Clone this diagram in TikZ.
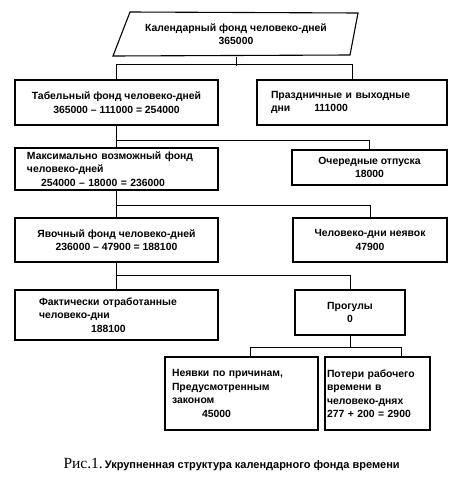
\documentclass[tikz,border=0pt]{standalone}
\usepackage{fontspec}
\setmainfont{Liberation Sans}
\newfontfamily\capserif{Liberation Serif}
\usetikzlibrary{positioning,calc}

\begin{document}
\begin{tikzpicture}[
                x=1pt,y=-1pt,
                box/.style={draw,line width=1.1pt,align=center,font=\fontsize{10.4}{13.5}\selectfont\bfseries,inner sep=2pt},
                lbox/.style={box,align=left,inner ysep=2pt},
                line/.style={line width=0.9pt},
            ]
                \useasboundingbox (0,0) rectangle (458,490);
                % top
                \node[box,draw=none,minimum height=44pt] (cal) at (236,34) {Календарный фонд человеко-дней\\365000};
                \draw[line width=1.1pt] (113,56) -- (130,12) -- (358,13) -- (350,55) -- cycle;
                % left column
                \node[box,minimum width=203pt,minimum height=45pt] (tab) at (116.5,102.5) {Табельный фонд человеко-дней\\365000 -- 111000 = 254000};
                \node[lbox,text width=179pt,inner xsep=12pt,minimum height=42pt] (max) at (116.5,169) {Максимально возможный фонд\\человеко-дней\\\hspace{14pt}254000 -- 18000 = 236000};
                \node[box,minimum width=203pt,minimum height=44pt] (yav) at (116.5,240) {Явочный фонд человеко-дней\\236000 -- 47900 = 188100};
                \node[lbox,text width=155pt,inner xsep=24pt,minimum height=50pt] (fact) at (116.5,315) {Фактически отработанные\\человеко-дни\\\hspace{52pt}188100};
                % right column
                \node[lbox,text width=162pt,inner xsep=14pt,minimum height=45pt] (hol) at (352,102.5) {Праздничные и выходные\\дни\hspace{24pt}111000};
                \node[box,minimum width=155pt,minimum height=35pt] (vac) at (369.5,167.5) {Очередные отпуска\\18000};
                \node[box,minimum width=154pt,minimum height=44pt] (abs) at (370,240) {Человеко-дни неявок\\47900};
                \node[box,minimum width=110pt,minimum height=45pt] (prog) at (350,312.5) {Прогулы\\0};
                % bottom
                \node[lbox,text width=139pt,inner xsep=7pt,minimum height=73pt] (nev) at (241.5,393.5) {Неявки по причинам,\\Предусмотренным\\законом\\\hspace{30pt}45000};
                \node[lbox,text width=101pt,inner xsep=2pt,minimum height=73pt] (loss) at (377.5,393.5) {Потери рабочего\\времени в\\человеко-днях\\277 + 200 = 2900};
                % connectors
                \draw[line] (cal.south) -- ++(0,9);
                \draw[line] (tab.north) -- ++(0,-15) -| (hol.north);
                \draw[line] (tab.south) -- (max.north);
                \draw[line] (tab.south) ++(0,15) -| (vac.north);
                \draw[line] (max.south) -- (yav.north);
                \draw[line] (max.south) ++(0,15) -| (abs.north);
                \draw[line] (yav.south) -- (fact.north);
                \draw[line] (yav.south) ++(0,13) -| (prog.north);
                \draw[line] (prog.south) -- ++(0,12) coordinate (split);
                \draw[line] ($(nev.north)+(9,0)$) |- (split) -| ($(loss.north)+(24,0)$);
                % caption
                \node[anchor=west] (capt) at (60,465) {{\capserif\fontsize{15.5}{17}\selectfont Рис.1.}\kern2pt{\fontsize{11}{12}\selectfont\bfseries Укрупненная структура календарного фонда времени}};
            \end{tikzpicture}
\end{document}
